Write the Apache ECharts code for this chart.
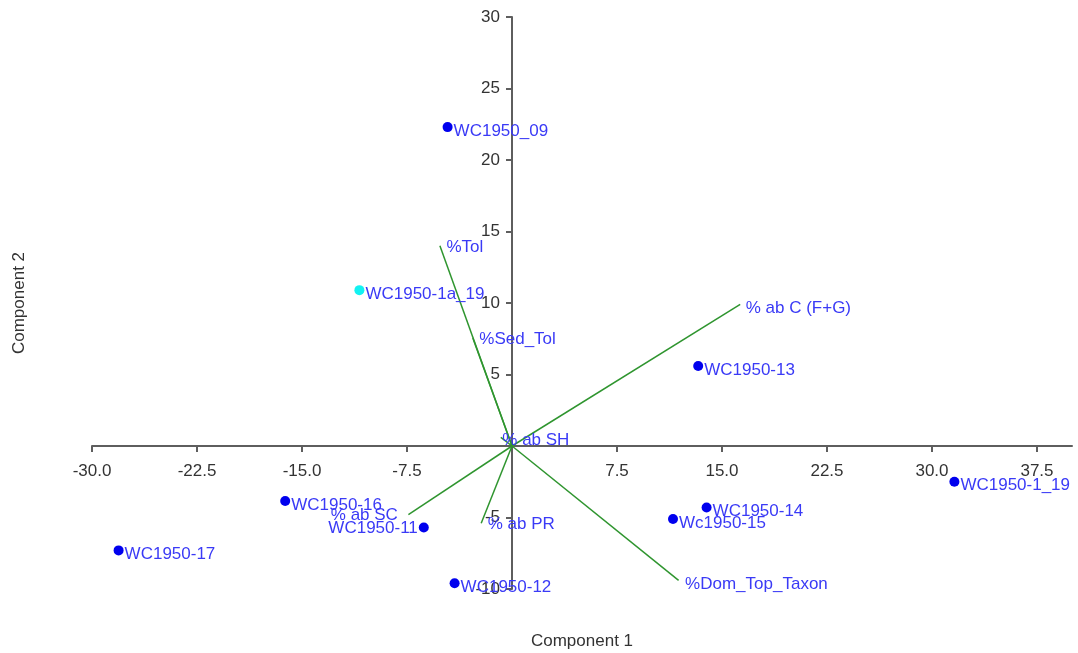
<!DOCTYPE html>
<html>
<head>
<meta charset="utf-8">
<script src="https://cdn.jsdelivr.net/npm/echarts@6/dist/echarts.min.js"></script>
<style>
html,body{margin:0;padding:0;background:#fff;}
#chart{width:1078px;height:653px;}
</style>
</head>
<body>
<div id="chart"></div>
<script>
// ---- data ----
const sampleNames = ['WC1950_09','WC1950-1a_19','WC1950-13','WC1950-1_19','WC1950-14','Wc1950-15','WC1950-16','WC1950-11','WC1950-17','WC1950-12'];
const sampleX = [-4.6,-10.9,13.3,31.6,13.9,11.5,-16.2,-6.3,-28.1,-4.1];
const sampleY = [22.3,10.9,5.6,-2.5,-4.3,-5.1,-3.85,-5.7,-7.3,-9.6];

const loadingNames = ['%Tol','%Sed_Tol','% ab C (F+G)','% ab SH','% ab SC','% ab PR','%Dom_Top_Taxon'];
const loadingX = [-5.15,-2.8,16.3,-0.8,-7.4,-2.2,11.9];
const loadingY = [14.0,7.55,9.9,0.6,-4.8,-5.4,-9.4];

const xTicks = [-30,-22.5,-15,-7.5,0,7.5,15,22.5,30,37.5];
const yTicks = [-10,-5,0,5,10,15,20,25,30];
const xRange = [-30, 40];
const yRange = [-10, 30];

const xTitle = 'Component 1';
const yTitle = 'Component 2';

// ---- styles ----
const W = 1078, H = 653;
const GRID = {left: 92, right: 6, top: 17, bottom: 64};
const FONT = "'Liberation Sans', Arial, Helvetica, sans-serif";
const AXIS_COLOR = '#5e5e5e';
const TEXT_COLOR = '#333';
const LABEL_COLOR = '#3a3af6';
const DOT_COLOR = '#0000ee';
const HIGHLIGHT_DOT = {'WC1950-1a_19': '#12f2f2'};
const GREEN = '#2f952f';

// axes cross at the data origin: shift each axis from the grid edge to zero
const gridW = W - GRID.left - GRID.right;
const gridH = H - GRID.top - GRID.bottom;
const xAxisShift = -gridH * (0 - yRange[0]) / (yRange[1] - yRange[0]);
const yAxisShift = -gridW * (0 - xRange[0]) / (xRange[1] - xRange[0]);

const sampleLabelPlacement = {
  'WC1950-11': {position: 'left', distance: 1, offset: [0, 1]}
};
const loadingLabelPlacement = {
  '%Tol': {position: 'right', distance: 6, offset: [0, 2]},
  '%Sed_Tol': {position: 'right', distance: 6, offset: [0, 1]},
  '% ab C (F+G)': {position: 'right', distance: 5, offset: [0, 4]},
  '% ab SH': {position: 'right', distance: 1, offset: [0, 3]},
  '% ab SC': {position: 'left', distance: 10, offset: [0, 1]},
  '% ab PR': {position: 'right', distance: 6, offset: [0, 1]},
  '%Dom_Top_Taxon': {position: 'right', distance: 6, offset: [0, 4]}
};

const sampleData = sampleNames.map((n, i) => {
  const p = sampleLabelPlacement[n] || {position: 'right', distance: 1, offset: [0, 4]};
  return {
    name: n,
    value: [sampleX[i], sampleY[i]],
    itemStyle: {color: HIGHLIGHT_DOT[n] || DOT_COLOR, opacity: 1},
    label: {position: p.position, distance: p.distance, offset: p.offset}
  };
});

const loadingEnds = loadingNames.map((n, i) => {
  const p = loadingLabelPlacement[n];
  return {
    name: n,
    value: [loadingX[i], loadingY[i]],
    label: {position: p.position, distance: p.distance, offset: p.offset}
  };
});

const lineSeries = loadingNames.map((n, i) => ({
  type: 'line',
  name: n,
  data: [[0, 0], [loadingX[i], loadingY[i]]],
  showSymbol: false,
  symbol: 'none',
  silent: true,
  animation: false,
  lineStyle: {color: GREEN, width: 1.5},
  z: 2
}));

const textStyle = {fontFamily: FONT, fontSize: 17, color: TEXT_COLOR};

const option = {
  animation: false,
  backgroundColor: '#fff',
  grid: {left: GRID.left, right: GRID.right, top: GRID.top, bottom: GRID.bottom, containLabel: false, outerBoundsMode: 'none'},
  xAxis: [{
    type: 'value', min: xRange[0], max: xRange[1], position: 'bottom', offset: xAxisShift,
    axisLine: {show: true, onZero: false, lineStyle: {color: AXIS_COLOR, width: 2}},
    axisTick: {show: true, length: 6, customValues: xTicks, lineStyle: {color: AXIS_COLOR, width: 2}},
    axisLabel: {customValues: xTicks.filter(v => v !== 0), formatter: v => Number(v).toFixed(1), margin: 17, ...textStyle},
    splitLine: {show: false}
  }, {
    type: 'value', min: xRange[0], max: xRange[1], position: 'bottom',
    axisLine: {show: false, onZero: false}, axisTick: {show: false}, axisLabel: {show: false}, splitLine: {show: false},
    name: xTitle, nameLocation: 'middle', nameGap: 44, nameTextStyle: textStyle
  }],
  yAxis: [{
    type: 'value', min: yRange[0], max: yRange[1], interval: 5, position: 'left', offset: yAxisShift,
    axisLine: {show: true, onZero: false, lineStyle: {color: AXIS_COLOR, width: 2}},
    axisTick: {show: true, length: 6, customValues: yTicks, lineStyle: {color: AXIS_COLOR, width: 2}},
    axisLabel: {customValues: yTicks.filter(v => v !== 0), formatter: v => String(v), margin: 12, ...textStyle},
    splitLine: {show: false}
  }, {
    type: 'value', min: yRange[0], max: yRange[1], position: 'left',
    axisLine: {show: false, onZero: false}, axisTick: {show: false}, axisLabel: {show: false}, splitLine: {show: false},
    name: yTitle, nameLocation: 'middle', nameGap: 64, nameTextStyle: textStyle
  }],
  series: [
    ...lineSeries,
    {
      type: 'scatter',
      name: 'loadings',
      data: loadingEnds,
      symbolSize: 1,
      itemStyle: {color: 'rgba(0,0,0,0)', opacity: 1},
      label: {show: true, formatter: '{b}', fontFamily: FONT, fontSize: 17, color: LABEL_COLOR},
      silent: true,
      z: 3
    },
    {
      type: 'scatter',
      name: 'samples',
      data: sampleData,
      symbolSize: 10,
      itemStyle: {opacity: 1},
      label: {show: true, formatter: '{b}', fontFamily: FONT, fontSize: 17, color: LABEL_COLOR},
      z: 4
    }
  ]
};

const chart = echarts.init(document.getElementById('chart'), null, {renderer: 'canvas'});
chart.setOption(option);
</script>
</body>
</html>
